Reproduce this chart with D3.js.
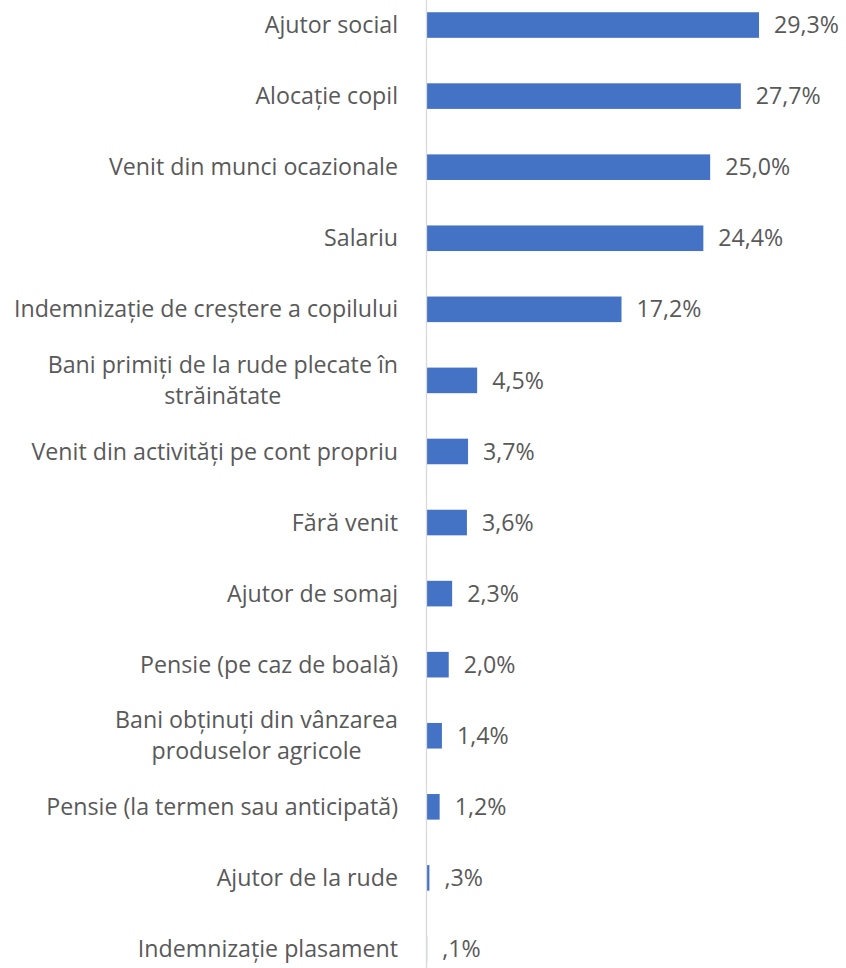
<!DOCTYPE html>
<html>
<head>
<meta charset="utf-8">
<script src="https://cdn.jsdelivr.net/npm/d3@7"></script>
<style>
    body { margin: 0; background: #fff; }
    svg { display: block; }
    .axis path { stroke: #d9d9d9; stroke-width: 1.3; }
    text { font-family: "Open Sans", sans-serif; fill: #595959; }
</style>
</head>
<body>
<div id="chart"></div>
<script>
// income sources, top to bottom ("\n" = line break in the label)
var categories = [
    "Ajutor social",
    "Alocație copil",
    "Venit din munci ocazionale",
    "Salariu",
    "Indemnizație de creștere a copilului",
    "Bani primiți de la rude plecate în\nstrăinătate",
    "Venit din activități pe cont propriu",
    "Fără venit",
    "Ajutor de somaj",
    "Pensie (pe caz de boală)",
    "Bani obținuți din vânzarea\nproduselor agricole",
    "Pensie (la termen sau anticipată)",
    "Ajutor de la rude",
    "Indemnizație plasament"
];
var values = [29.3, 27.7, 25.0, 24.4, 17.2, 4.5, 3.7, 3.6, 2.3, 2.0, 1.4, 1.2, 0.3, 0.1];

(function() {
    "use strict";
    var w = 846, h = 968,
        x0 = 426,
        pad = 28,
        fontSize = 23.2,
        lineGap = 31;

    var data = categories.map(function(c, i) { return {name: c, value: values[i]}; });

    var x = d3.scaleLinear()
        .domain([0, 30])
        .range([x0, 767]);

    var y = d3.scaleBand()
        .domain(categories)
        .range([-10.5, 984.5])
        .paddingInner(0.64)
        .paddingOuter(0.32);

    // excel style percent: comma decimal, no leading zero
    function fmt(v) {
        return v.toFixed(1).replace(".", ",").replace(/^0/, "") + "%";
    }

    var svg = d3.select("#chart").append("svg")
        .attr("width", w)
        .attr("height", h);

    svg.selectAll("rect.bar")
        .data(data)
        .enter()
        .append("rect")
        .attr("class", "bar")
        .attr("x", x(0))
        .attr("y", function(d) { return y(d.name); })
        .attr("width", function(d) { return x(d.value) - x(0); })
        .attr("height", y.bandwidth())
        .attr("fill", "#4472c4");

    svg.selectAll("text.value")
        .data(data)
        .enter()
        .append("text")
        .attr("class", "value")
        .attr("x", function(d) { return x(d.value) + 15; })
        .attr("y", function(d) { return y(d.name) + y.bandwidth() / 2; })
        .attr("dy", "0.35em")
        .style("font-size", fontSize + "px")
        .text(function(d) { return fmt(d.value); });

    var yAxis = d3.axisLeft(y)
        .tickSize(0)
        .tickPadding(pad)
        .tickFormat("");

    var g = svg.append("g")
        .attr("class", "axis")
        .attr("transform", "translate(" + x0 + ",0)")
        .call(yAxis);

    // multi-line category labels: block right aligned, lines centred
    g.selectAll(".tick").each(function(d) {
        var lines = d.split("\n"),
            t = d3.select(this).select("text")
                .attr("text-anchor", "end")
                .style("font-size", fontSize + "px")
                .style("fill", "#595959");
        var spans = t.selectAll("tspan")
            .data(lines)
            .enter()
            .append("tspan")
            .attr("x", -pad)
            .attr("y", function(l, i) { return (i - (lines.length - 1) / 2) * lineGap; })
            .attr("dy", "0.35em")
            .text(function(l) { return l; });
        if (lines.length > 1) {
            var maxW = 0;
            spans.each(function() { maxW = Math.max(maxW, this.getComputedTextLength()); });
            t.attr("text-anchor", "middle");
            spans.attr("x", -pad - maxW / 2);
        }
    });
}());
</script>
</body>
</html>
